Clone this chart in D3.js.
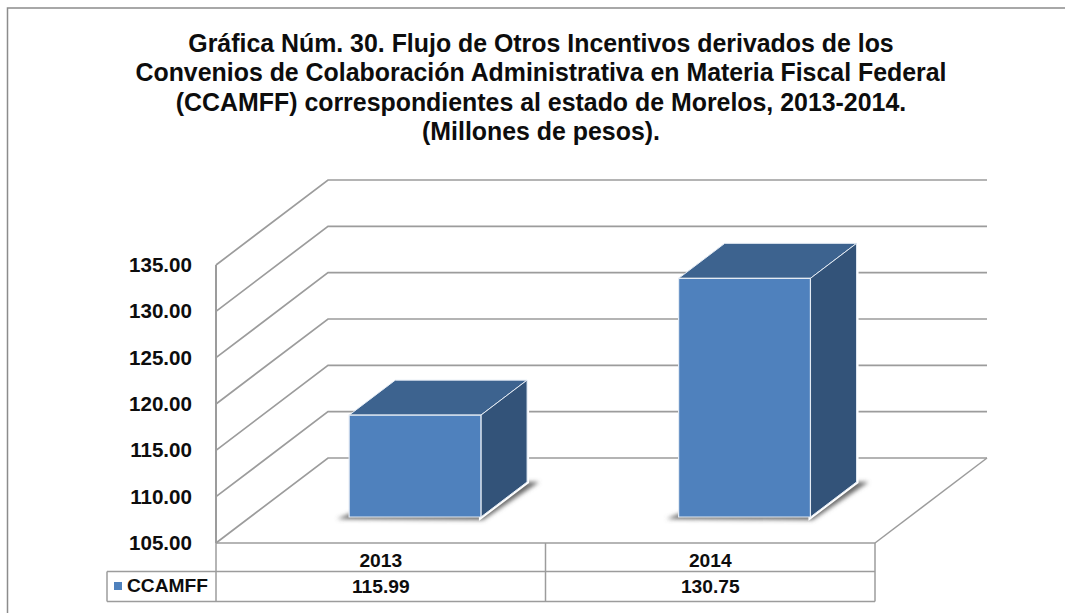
<!DOCTYPE html>
<html>
<head>
<meta charset="utf-8">
<script src="https://cdn.jsdelivr.net/npm/d3@7"></script>
<style>
  html, body { margin: 0; padding: 0; background: #fff; }
  svg { display: block; }
  text { font-family: "Liberation Sans", Arial, sans-serif; font-weight: bold; fill: #0d0d0d; }
</style>
</head>
<body>
<svg width="1065" height="613"></svg>
<script>
const titleLines = [
  'Gráfica Núm. 30. Flujo de Otros Incentivos derivados de los',
  'Convenios de Colaboración Administrativa en Materia Fiscal Federal',
  '(CCAMFF) correspondientes al estado de Morelos, 2013-2014.',
  '(Millones de pesos).'
];
const categories = ['2013', '2014'];
const values = [115.99, 130.75];
const valueLabels = ['115.99', '130.75'];
const seriesName = 'CCAMFF';
const yTicks = [105, 110, 115, 120, 125, 130, 135];

const gridColor = '#9c9c9c',
      depthX = 112,
      depthY = -85;

const svg = d3.select('svg');

const x = d3.scaleBand()
    .domain(categories)
    .range([216, 875])
    .paddingInner(0.6)
    .paddingOuter(0.3);

const y = d3.scaleLinear()
    .domain([105, 135])
    .range([543, 265]);

// depth 0 is the front of the floor, 1 the back wall
const pt = (px, value, depth) => [px + depth * depthX, y(value) + depth * depthY];
const poly = pts => pts.map(p => p.join(',')).join(' ');

const defs = svg.append('defs');
defs.append('filter').attr('id', 'soft')
    .attr('x', '-20%').attr('y', '-40%').attr('width', '140%').attr('height', '180%')
  .append('feGaussianBlur').attr('stdDeviation', 2);

// outer frame: left and top only, the top runs off the page
svg.append('path')
    .attr('d', 'M7.5,613V8H1065')
    .attr('fill', 'none')
    .attr('stroke', '#8c8c8c')
    .attr('stroke-width', 1.5);

// title
svg.append('g').selectAll('text')
    .data(titleLines)
  .enter().append('text')
    .attr('x', 541)
    .attr('y', (d, i) => 51.5 + i * 29.6)
    .attr('text-anchor', 'middle')
    .attr('font-size', 24.9)
    .text(d => d);

// grid lines on side and back wall
const [x0, x1] = x.range();
svg.append('g').selectAll('polyline')
    .data(yTicks)
  .enter().append('polyline')
    .attr('points', d => poly([pt(x0, d, 0), pt(x0, d, 1), pt(x1, d, 1)]))
    .attr('fill', 'none')
    .attr('stroke', gridColor)
    .attr('stroke-width', 1.7);

// floor right edge and front axis
svg.append('polyline')
    .attr('points', poly([pt(x1, 105, 1), pt(x1, 105, 0)]))
    .attr('fill', 'none')
    .attr('stroke', gridColor)
    .attr('stroke-width', 1.5);
svg.append('line')
    .attr('x1', x0).attr('x2', x0)
    .attr('y1', y(135)).attr('y2', y(105))
    .attr('stroke', gridColor)
    .attr('stroke-width', 2);

// y labels
svg.append('g').selectAll('text')
    .data(yTicks)
  .enter().append('text')
    .attr('x', 192)
    .attr('y', d => y(d) + 7)
    .attr('text-anchor', 'end')
    .attr('font-size', 20.6)
    .text(d => d3.format('.2f')(d));

// bars
const d0 = 0.306, d1 = 0.718;
const bars = svg.append('g').selectAll('g')
    .data(categories.map((c, i) => ({c, v: values[i]})))
  .enter().append('g');

const faceR = d => x(d.c) + x.bandwidth();
const facePts = {
  top: d => [pt(x(d.c), d.v, d0), pt(faceR(d), d.v, d0), pt(faceR(d), d.v, d1), pt(x(d.c), d.v, d1)],
  side: d => [pt(faceR(d), d.v, d0), pt(faceR(d), d.v, d1), pt(faceR(d), 105, d1), pt(faceR(d), 105, d0)],
  front: d => [pt(x(d.c), d.v, d0), pt(faceR(d), d.v, d0), pt(faceR(d), 105, d0), pt(x(d.c), 105, d0)]
};

// soft shadow on the floor
bars.append('polygon')
    .attr('points', d => poly([
      [pt(x(d.c), 105, d0)[0] - 12, pt(x(d.c), 105, d0)[1] + 2],
      [pt(faceR(d), 105, d0)[0] + 2, pt(faceR(d), 105, d0)[1] + 3],
      [pt(faceR(d), 105, d1)[0] + 12, pt(faceR(d), 105, d1)[1]],
      pt(faceR(d), 105, d1),
      [pt(x(d.c), 105, d0)[0], pt(x(d.c), 105, d0)[1] - 3]
    ]))
    .attr('fill', '#6a6a6a')
    .attr('filter', 'url(#soft)');

// white halo keeps the grid lines off the bar
bars.append('polygon')
    .attr('points', d => poly(facePts.side(d)))
    .attr('fill', 'none')
    .attr('stroke', '#fff')
    .attr('stroke-width', 4);

const barStroke = '#e4ebf4';
bars.append('polygon')
    .attr('points', d => poly(facePts.top(d)))
    .attr('fill', '#3d638f')
    .attr('stroke', barStroke)
    .attr('stroke-width', 1);
bars.append('polygon')
    .attr('points', d => poly(facePts.side(d)))
    .attr('fill', '#335379')
    .attr('stroke', barStroke)
    .attr('stroke-width', 1);
bars.append('polygon')
    .attr('points', d => poly(facePts.front(d)))
    .attr('fill', '#4f81bd')
    .attr('stroke', barStroke)
    .attr('stroke-width', 1.2);

// data table
const rowY = [y(105), 571.5, 601.5],
      legendX = 107,
      colX = [x0, (x0 + x1) / 2, x1];

const table = svg.append('g')
    .attr('stroke', gridColor)
    .attr('stroke-width', 1.5);
[
  [x0, rowY[0], x1, rowY[0]],
  [legendX, rowY[1], x1, rowY[1]],
  [legendX, rowY[2], x1, rowY[2]],
  [legendX, rowY[1], legendX, rowY[2]]
].concat(colX.map(c => [c, rowY[0], c, rowY[2]]))
  .forEach(l => {
    table.append('line')
        .attr('x1', l[0]).attr('y1', l[1])
        .attr('x2', l[2]).attr('y2', l[3]);
  });

svg.append('g').selectAll('text')
    .data(categories)
  .enter().append('text')
    .attr('x', (d, i) => (colX[i] + colX[i + 1]) / 2)
    .attr('y', 567)
    .attr('text-anchor', 'middle')
    .attr('font-size', 19.2)
    .text(d => d);

svg.append('g').selectAll('text')
    .data(valueLabels)
  .enter().append('text')
    .attr('x', (d, i) => (colX[i] + colX[i + 1]) / 2)
    .attr('y', 593)
    .attr('text-anchor', 'middle')
    .attr('font-size', 19.2)
    .text(d => d);

// legend key
svg.append('rect')
    .attr('x', 114).attr('y', 582)
    .attr('width', 8).attr('height', 8)
    .attr('fill', '#4f81bd');
svg.append('text')
    .attr('x', 127)
    .attr('y', 592)
    .attr('font-size', 19.2)
    .text(seriesName);
</script>
</body>
</html>
